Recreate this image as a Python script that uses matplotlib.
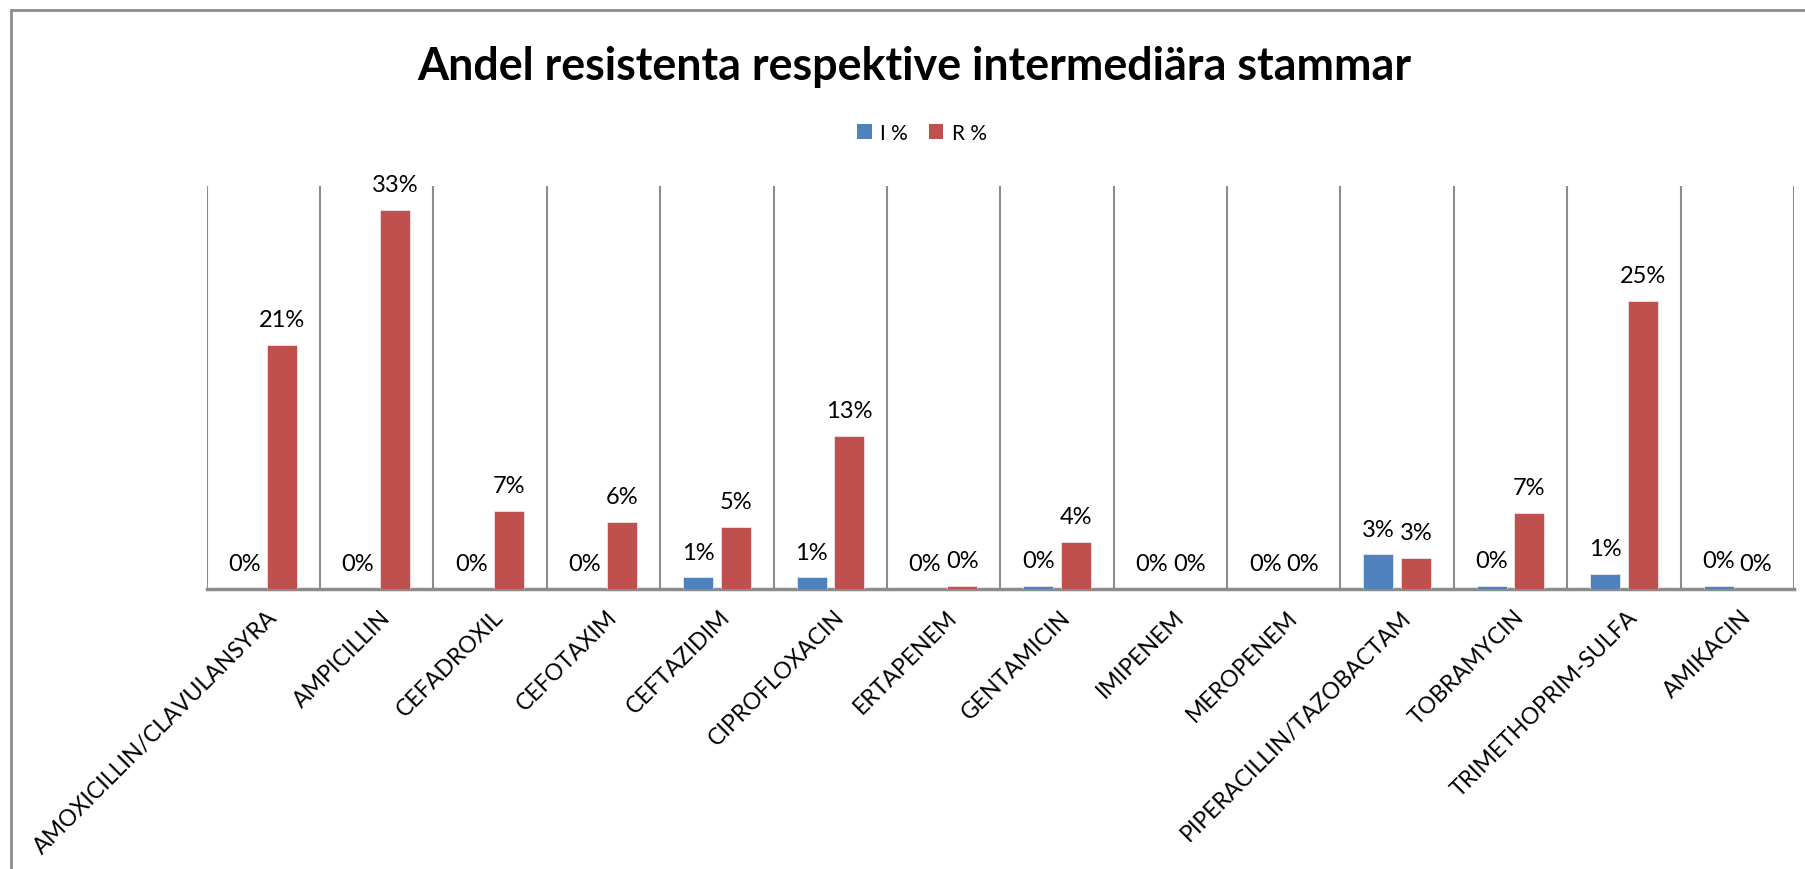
import numpy as np
import matplotlib
matplotlib.use("Agg")
import matplotlib.pyplot as plt
from matplotlib.patches import Patch, Rectangle

plt.rcParams['font.family'] = ['Lato', 'DejaVu Sans']

# data (percent)
antibiotics = ['AMOXICILLIN/CLAVULANSYRA', 'AMPICILLIN', 'CEFADROXIL', 'CEFOTAXIM',
               'CEFTAZIDIM', 'CIPROFLOXACIN', 'ERTAPENEM', 'GENTAMICIN', 'IMIPENEM',
               'MEROPENEM', 'PIPERACILLIN/TAZOBACTAM', 'TOBRAMYCIN',
               'TRIMETHOPRIM-SULFA', 'AMIKACIN']
i_pct = [0, 0, 0, 0, 1.0, 1.0, 0, 0.3, 0, 0, 3.0, 0.3, 1.3, 0.3]
r_pct = [21.2, 32.9, 6.8, 5.8, 5.4, 13.3, 0.3, 4.1, 0, 0, 2.7, 6.6, 25.0, 0]
series_names = ['I %', 'R %']
colors = ['#4F81BD', '#C0504D']

W, H = 1805, 870
fig = plt.figure(figsize=(W / 100, H / 100), dpi=100)

# chart border (clipped at right/bottom like the screenshot)
fig.patches.append(Rectangle((10.5 / W, -0.1), 2, 1.1 - 10.5 / H, transform=fig.transFigure,
                             fill=False, edgecolor='#8c8c8c', linewidth=2))

ax = fig.add_axes([206.7 / W, 1 - 590 / H, (1794 - 206.7) / W, (590 - 186.7) / H])

x = np.arange(len(antibiotics))
bw = 0.265
off = 0.165
for vals, sign, col in [(i_pct, -1, colors[0]), (r_pct, 1, colors[1])]:
    bars = ax.bar(x + sign * off, vals, width=bw, color=col, edgecolor='#ffffff',
                  linewidth=0.4, zorder=3)
    for b, v in zip(bars, vals):
        ax.annotate(f"{int(round(v))}%", (b.get_x() + b.get_width() / 2, v),
                    xytext=(0, 13.5), textcoords='offset points',
                    ha='center', va='baseline', fontsize=17, color='black')

ax.set_xlim(-0.5, len(antibiotics) - 0.5)
ax.set_ylim(0, 35)
ax.vlines(np.arange(-0.5, len(antibiotics)), 0, 35, color='#8c8c8c', linewidth=1.5, zorder=1)

for s in ['top', 'left', 'right']:
    ax.spines[s].set_visible(False)
ax.spines['bottom'].set_color('#8c8c8c')
ax.spines['bottom'].set_linewidth(2.5)
ax.set_yticks([])
ax.set_xticks(x)
ax.set_xticklabels([])
ax.tick_params(axis='x', length=0)

for xi, name in zip(x, antibiotics):
    ax.annotate(name, (xi, 0), xytext=(2, -12), textcoords='offset points',
                rotation=45, rotation_mode='anchor', ha='right', va='top',
                fontsize=16.6, color='black', annotation_clip=False)

fig.text(914 / W, 1 - 80 / H, 'Andel resistenta respektive intermediära stammar',
         ha='center', va='baseline', fontsize=32.3, fontweight='bold')

handles = [Patch(facecolor=c, label=n) for c, n in zip(colors, series_names)]
fig.legend(handles=handles, ncol=2, loc='center', bbox_to_anchor=(922 / W, 1 - 134 / H),
           frameon=False, fontsize=15, handlelength=0.7, handleheight=0.7,
           handletextpad=0.4, columnspacing=1.0)

fig.savefig('out.png', dpi=100)
